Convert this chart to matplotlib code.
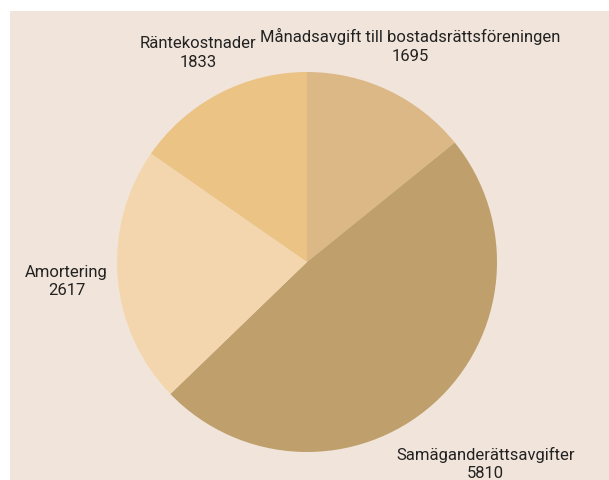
import numpy as np
import matplotlib.pyplot as plt

labels = ['Månadsavgift till bostadsrättsföreningen', 'Samäganderättsavgifter',
          'Amortering', 'Räntekostnader']
values = [1695, 5810, 2617, 1833]
colors = ['#dcb886', '#bfa06c', '#f3d6ad', '#ebc385']

# how far out each label sits, in pie radii
label_dist = [1.26, 1.42, 1.27, 1.24]

fig = plt.figure(figsize=(6.09, 4.80), dpi=100)
fig.patch.set_facecolor('white')
# beige panel, leaving a thin white strip at the left and top
ax = fig.add_axes([10 / 609, 0, 599 / 609, 469 / 480])

wedges, _ = ax.pie(values, colors=colors, startangle=90, counterclock=False,
                   wedgeprops=dict(linewidth=0))

ax.set_frame_on(True)
ax.set_facecolor('#f1e5db')
for s in ax.spines.values():
    s.set_visible(False)
ax.set_xticks([])
ax.set_yticks([])

r_px = 190
ax.set_xlim(-297 / r_px, (599 - 297) / r_px)
ax.set_ylim(-218 / r_px, (469 - 218) / r_px)
ax.set_aspect('auto')

for w, lab, val, d in zip(wedges, labels, values, label_dist):
    ang = np.deg2rad((w.theta1 + w.theta2) / 2)
    ax.text(d * np.cos(ang), d * np.sin(ang), f'{lab}\n{val}',
            ha='center', va='center', fontsize=12, color='#222222',
            family='Roboto', linespacing=1.3)

fig.savefig('out.png', dpi=100, facecolor=fig.get_facecolor())
